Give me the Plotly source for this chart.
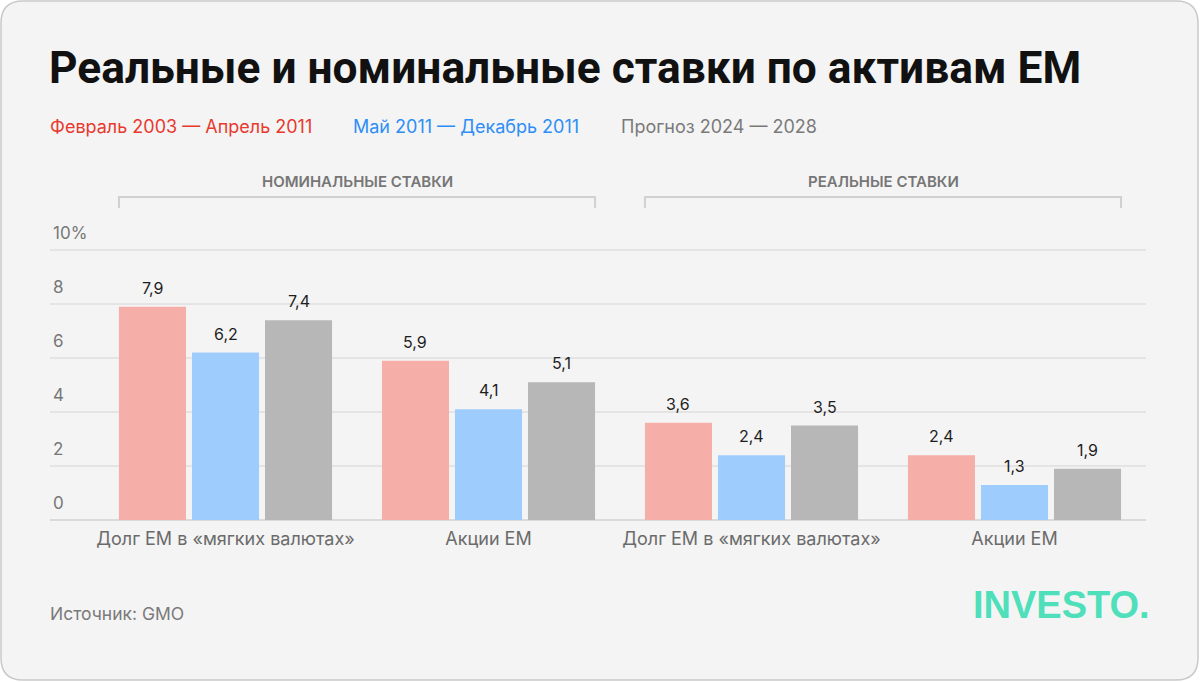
import plotly.graph_objects as go

# ---------------- data ----------------
categories = ["Долг EM в «мягких валютах»", "Акции EM",
              "Долг EM в «мягких валютах»", "Акции EM"]
series_names = ["Февраль 2003 — Апрель 2011", "Май 2011 — Декабрь 2011", "Прогноз 2024 — 2028"]
feb2003_apr2011 = [7.9, 5.9, 3.6, 2.4]
may2011_dec2011 = [6.2, 4.1, 2.4, 1.3]
forecast_2024_2028 = [7.4, 5.1, 3.5, 1.9]
group_labels = ["НОМИНАЛЬНЫЕ СТАВКИ", "РЕАЛЬНЫЕ СТАВКИ"]
group_members = [[0, 1], [2, 3]]
tick_values = [0, 2, 4, 6, 8, 10]
tick_labels = ["0", "2", "4", "6", "8", "10%"]
title_text = "Реальные и номинальные ставки по активам EM"
source_text = "Источник: GMO"
logo_text = "INVESTO."

# ---------------- styles ----------------
bar_colors = ["#f6aea8", "#9ecdfd", "#b7b7b7"]
legend_colors = ["#e8392f", "#2e8ef5", "#7a7a7a"]
FONT = "Inter, Roboto, 'Noto Sans', sans-serif"
TITLE_FONT = "Roboto, Inter, sans-serif"
W, H = 1200, 682
ML, MR, MT, MB = 50, 54, 223, 162
Y_MAX = 11
BARGAP = 0.167
BARGROUPGAP = 0.082

series = [feb2003_apr2011, may2011_dec2011, forecast_2024_2028]
x_idx = list(range(len(categories)))


def px(x):
    return (x - ML) / (W - ML - MR)


def py(y):
    return (H - MB - y) / (H - MT - MB)


fig = go.Figure()
for name, vals, col in zip(series_names, series, bar_colors):
    fig.add_trace(go.Bar(x=x_idx, y=vals, name=name, marker=dict(color=col, line=dict(width=0)),
                         showlegend=False, hoverinfo="skip"))

n = len(series)
slot = (1 - BARGAP) / n
annotations = []
# value labels
for j, vals in enumerate(series):
    for i, v in enumerate(vals):
        annotations.append(dict(x=i + (j - (n - 1) / 2) * slot, y=v, xref="x", yref="y",
                                text=f"{v:.1f}".replace(".", ","), showarrow=False,
                                yanchor="bottom", yshift=7,
                                font=dict(family=FONT, size=16, color="#1e1e1e")))

# title
annotations.append(dict(x=px(47), y=py(68), xref="paper", yref="paper", text=f"<b>{title_text}</b>",
                        showarrow=False, xanchor="left", yanchor="middle",
                        font=dict(family=TITLE_FONT, size=44.3, color="#111111")))
# legend-like texts
leg_x = [48, 351, 619]
for lx, name, col in zip(leg_x, series_names, legend_colors):
    annotations.append(dict(x=px(lx), y=py(126), xref="paper", yref="paper", text=name,
                            showarrow=False, xanchor="left", yanchor="middle",
                            font=dict(family=FONT, size=18, color=col)))

shapes = []
# group brackets and labels
left_edge = -(1 - BARGAP) / 2 + slot * BARGROUPGAP / 2
right_edge = (1 - BARGAP) / 2 - slot * BARGROUPGAP / 2
for label, members in zip(group_labels, group_members):
    x0 = members[0] + left_edge
    x1 = members[-1] + right_edge
    shapes.append(dict(type="path", xref="x", yref="paper",
                       path=f"M {x0} {py(208)} L {x0} {py(197)} L {x1} {py(197)} L {x1} {py(208)}",
                       line=dict(color="#d0d0d0", width=2)))
    annotations.append(dict(x=(x0 + x1) / 2, y=py(181), xref="x", yref="paper", text=label,
                            showarrow=False, xanchor="center", yanchor="middle",
                            font=dict(family=FONT, size=15, color="#767676", weight=600)))

# source
annotations.append(dict(x=px(48), y=py(613), xref="paper", yref="paper", text=source_text,
                        showarrow=False, xanchor="left", yanchor="middle",
                        font=dict(family=FONT, size=17.5, color="#7a7a7a")))
# logo
annotations.append(dict(x=px(1152), y=py(605), xref="paper", yref="paper", text=f"<b>{logo_text}</b>",
                        showarrow=False, xanchor="right", yanchor="middle",
                        font=dict(family="'Liberation Sans Narrow', 'Liberation Sans', sans-serif",
                                  size=38, color="#4fdfba")))

# background card
r = 22
x0p, x1p, y0p, y1p = 1, 1198, 1, 680
card = (f"M {px(x0p + r)} {py(y0p)} L {px(x1p - r)} {py(y0p)} Q {px(x1p)} {py(y0p)} {px(x1p)} {py(y0p + r)} "
        f"L {px(x1p)} {py(y1p - r)} Q {px(x1p)} {py(y1p)} {px(x1p - r)} {py(y1p)} "
        f"L {px(x0p + r)} {py(y1p)} Q {px(x0p)} {py(y1p)} {px(x0p)} {py(y1p - r)} "
        f"L {px(x0p)} {py(y0p + r)} Q {px(x0p)} {py(y0p)} {px(x0p + r)} {py(y0p)} Z")
shapes.insert(0, dict(type="path", xref="paper", yref="paper", path=card, layer="below",
                      fillcolor="#f4f4f4", line=dict(color="#c9c9c9", width=1.5)))

cat_center_px = 225.5
fig.update_layout(
    width=W, height=H,
    margin=dict(l=ML, r=MR, t=MT, b=MB, pad=0),
    paper_bgcolor="#ffffff", plot_bgcolor="rgba(0,0,0,0)",
    barmode="group", bargap=BARGAP, bargroupgap=BARGROUPGAP,
    showlegend=False,
    font=dict(family=FONT),
    xaxis=dict(range=[-(cat_center_px - ML) / 263, len(categories) - 0.5],
               tickmode="array", tickvals=x_idx, ticktext=categories,
               showgrid=False, zeroline=False, showline=False, ticks="",
               ticklabelstandoff=6,
               tickfont=dict(family=FONT, size=18, color="#6b6b6b"), fixedrange=True),
    yaxis=dict(range=[0, Y_MAX], tickmode="array", tickvals=tick_values, ticktext=tick_labels,
               showgrid=True, gridcolor="#e4e4e4", gridwidth=2,
               zeroline=True, zerolinecolor="#dadada", zerolinewidth=2,
               showline=False, ticks="", ticklabelposition="inside top",
               ticklabelstandoff=0, ticklabelshift=-5,
               tickfont=dict(family=FONT, size=17, color="#777777"), fixedrange=True),
    annotations=annotations, shapes=shapes,
)

fig.write_html("out.html", config={"displayModeBar": False},
               post_script="document.body.style.margin='0';document.body.style.overflow='hidden';")
